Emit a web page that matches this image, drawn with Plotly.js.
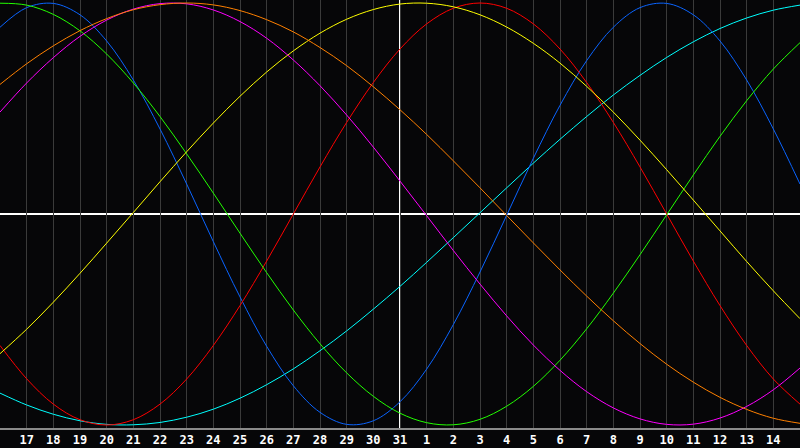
<!DOCTYPE html>
<html>
<head>
<meta charset="utf-8">
<script src="https://cdn.plot.ly/plotly-3.0.1.min.js"></script>
<style>
html,body{margin:0;padding:0;background:#060608;}
#chart{width:800px;height:448px;}
</style>
</head>
<body>
<div id="chart"></div>
<script>
// day positions (0 = edge before 17, 30 = edge after 14)
const xPos = [0,1,2,3,4,5,6,7,8,9,10,11,12,13,14,15,16,17,18,19,20,21,22,23,24,25,26,27,28,29,30];
const tickPos = [1,2,3,4,5,6,7,8,9,10,11,12,13,14,15,16,17,18,19,20,21,22,23,24,25,26,27,28,29];
const dayLabels = ["17","18","19","20","21","22","23","24","25","26","27","28","29","30","31","1","2","3","4","5","6","7","8","9","10","11","12","13","14"];
const todayPos = 15;

const blue = [0.885,0.978,0.998,0.944,0.820,0.635,0.403,0.142,-0.131,-0.393,-0.627,-0.814,-0.940,-0.997,-0.980,-0.890,-0.735,-0.524,-0.275,-0.006,0.264,0.515,0.727,0.885,0.978,0.998,0.944,0.820,0.635,0.403,0.142];
const red = [-0.623,-0.781,-0.901,-0.975,-1.000,-0.975,-0.901,-0.782,-0.623,-0.434,-0.223,0.000,0.223,0.434,0.623,0.782,0.901,0.975,1.000,0.975,0.901,0.782,0.623,0.434,0.223,0.000,-0.223,-0.434,-0.623,-0.782,-0.901];
const green = [0.999,0.990,0.946,0.868,0.758,0.621,0.462,0.285,0.099,-0.091,-0.278,-0.455,-0.615,-0.753,-0.864,-0.944,-0.989,-0.999,-0.973,-0.911,-0.817,-0.693,-0.544,-0.375,-0.193,-0.004,0.185,0.368,0.537,0.687,0.812];
const magenta = [0.483,0.621,0.741,0.842,0.919,0.971,0.997,0.996,0.967,0.912,0.833,0.730,0.608,0.469,0.317,0.156,-0.008,-0.173,-0.332,-0.483,-0.621,-0.741,-0.842,-0.919,-0.971,-0.997,-0.996,-0.967,-0.912,-0.833,-0.730];
const yellow = [-0.662,-0.546,-0.418,-0.281,-0.138,0.007,0.153,0.295,0.431,0.558,0.673,0.773,0.857,0.923,0.969,0.995,0.999,0.982,0.944,0.886,0.809,0.715,0.605,0.483,0.350,0.210,0.066,-0.080,-0.225,-0.364,-0.496];
const orange = [0.614,0.712,0.797,0.869,0.926,0.968,0.992,1.000,0.991,0.964,0.921,0.863,0.789,0.703,0.603,0.494,0.377,0.252,0.124,-0.007,-0.137,-0.265,-0.389,-0.506,-0.614,-0.712,-0.797,-0.869,-0.926,-0.968,-0.992];
const cyan = [-0.849,-0.905,-0.949,-0.980,-0.997,-0.999,-0.988,-0.963,-0.925,-0.873,-0.809,-0.734,-0.648,-0.554,-0.451,-0.343,-0.229,-0.112,0.006,0.124,0.241,0.354,0.462,0.564,0.657,0.742,0.816,0.879,0.929,0.966,0.990];

const series = [
  {y: cyan, c: "#00ffff"},
  {y: blue, c: "#0a64ff"},
  {y: red, c: "#ff0000"},
  {y: green, c: "#22ff00"},
  {y: yellow, c: "#ffff00"},
  {y: magenta, c: "#ff00ff"},
  {y: orange, c: "#ff8000"}
];

const traces = series.map(s => ({
  x: xPos, y: s.y, type: "scatter", mode: "lines",
  line: {color: s.c, width: 1, shape: "spline", smoothing: 1},
  hoverinfo: "skip", showlegend: false
}));

const layout = {
  width: 800, height: 448,
  paper_bgcolor: "#060608", plot_bgcolor: "#060608",
  margin: {l: 0, r: 0, t: 0, b: 20, pad: 0},
  showlegend: false,
  xaxis: {
    range: [0, 30], tickvals: tickPos, ticktext: dayLabels,
    showgrid: true, gridcolor: "#3a3a3a", gridwidth: 1,
    zeroline: false, ticks: "", ticklen: 0,
    showline: true, linecolor: "#8a8a8a", linewidth: 2, mirror: true,
    tickfont: {family: "DejaVu Sans Mono", size: 12, color: "#ffffff", weight: "bold"},
    fixedrange: true
  },
  yaxis: {
    range: [-1.0142, 1.0142], showgrid: false, zeroline: false,
    showticklabels: false, ticks: "",
    showline: true, linecolor: "#8a8a8a", linewidth: 2, mirror: false,
    fixedrange: true
  },
  shapes: [
    {type: "line", xref: "paper", x0: 0, x1: 1, yref: "y", y0: 0, y1: 0, line: {color: "#ffffff", width: 2}, layer: "between"},
    {type: "line", xref: "x", x0: todayPos, x1: todayPos, yref: "paper", y0: 0, y1: 1, line: {color: "#ffffff", width: 2}, layer: "between"}
  ]
};

Plotly.newPlot("chart", traces, layout, {staticPlot: true, displayModeBar: false});
</script>
</body>
</html>
